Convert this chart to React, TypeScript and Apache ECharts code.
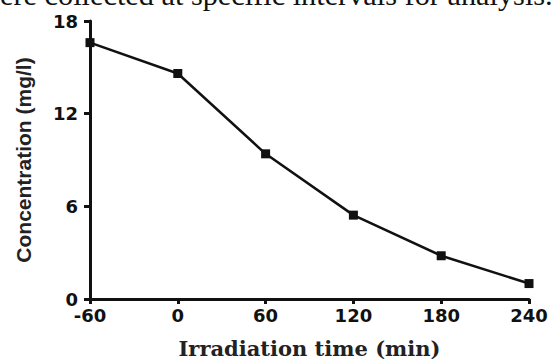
import React, { useEffect, useRef } from "react";
import * as echarts from "echarts";

const times = [-60, 0, 60, 120, 180, 240];
const concentration = [16.6, 14.6, 9.4, 5.43, 2.8, 1.0];
const yTicks = [0, 6, 12, 18];
const xTicks = [-60, 0, 60, 120, 180, 240];
const captionText = "ere collected at specific intervals for analysis.";

export default function App() {
  const ref = useRef<HTMLDivElement>(null);
  useEffect(() => {
    if (!ref.current) return;
    const chart = echarts.init(ref.current, null, { renderer: "svg" });
    const tickFont = {
      fontFamily: "DejaVu Sans",
      fontWeight: "bold" as const,
      fontSize: 18,
      color: "#111",
    };
    chart.setOption({
      animation: false,
      backgroundColor: "#ffffff",
      graphic: [
        {
          type: "text",
          left: 0,
          top: -20,
          style: {
            text: captionText,
            font: "30.3px 'Liberation Serif'",
            fill: "#111",
          },
        },
      ],
      grid: { left: 90, right: 23, top: 21, bottom: 59, containLabel: false },
      xAxis: {
        type: "value",
        min: xTicks[0],
        max: xTicks[xTicks.length - 1],
        interval: 60,
        name: "Irradiation time (min)",
        nameLocation: "middle",
        nameGap: 39,
        nameTextStyle: {
          fontFamily: "DejaVu Serif",
          fontWeight: "bold",
          fontSize: 21,
          color: "#222",
        },
        axisLine: { onZero: false, lineStyle: { color: "#111", width: 3 } },
        axisTick: { show: true, length: 5, lineStyle: { color: "#111", width: 3 } },
        axisLabel: { ...tickFont, margin: 7 },
        splitLine: { show: false },
      },
      yAxis: {
        type: "value",
        min: yTicks[0],
        max: yTicks[yTicks.length - 1],
        interval: 6,
        name: "Concentration (mg/l)",
        nameLocation: "middle",
        nameGap: 56,
        nameTextStyle: {
          fontFamily: "'Liberation Sans Narrow', 'Liberation Sans', sans-serif",
          fontWeight: "bold",
          fontSize: 21,
          color: "#222",
        },
        axisLine: { show: true, onZero: false, lineStyle: { color: "#111", width: 3 } },
        axisTick: { show: true, length: 6, lineStyle: { color: "#111", width: 3 } },
        axisLabel: { ...tickFont, margin: 12 },
        splitLine: { show: false },
      },
      series: [
        {
          type: "line",
          data: times.map((t, i) => [t, concentration[i]]),
          symbol: "rect",
          symbolSize: 9,
          itemStyle: { color: "#111" },
          lineStyle: { color: "#111", width: 2.5 },
          clip: false,
        },
      ],
    });
    return () => chart.dispose();
  }, []);
  return (
    <div
      ref={ref}
      style={{ position: "fixed", left: 0, top: 0, width: 552, height: 364 }}
    />
  );
}
